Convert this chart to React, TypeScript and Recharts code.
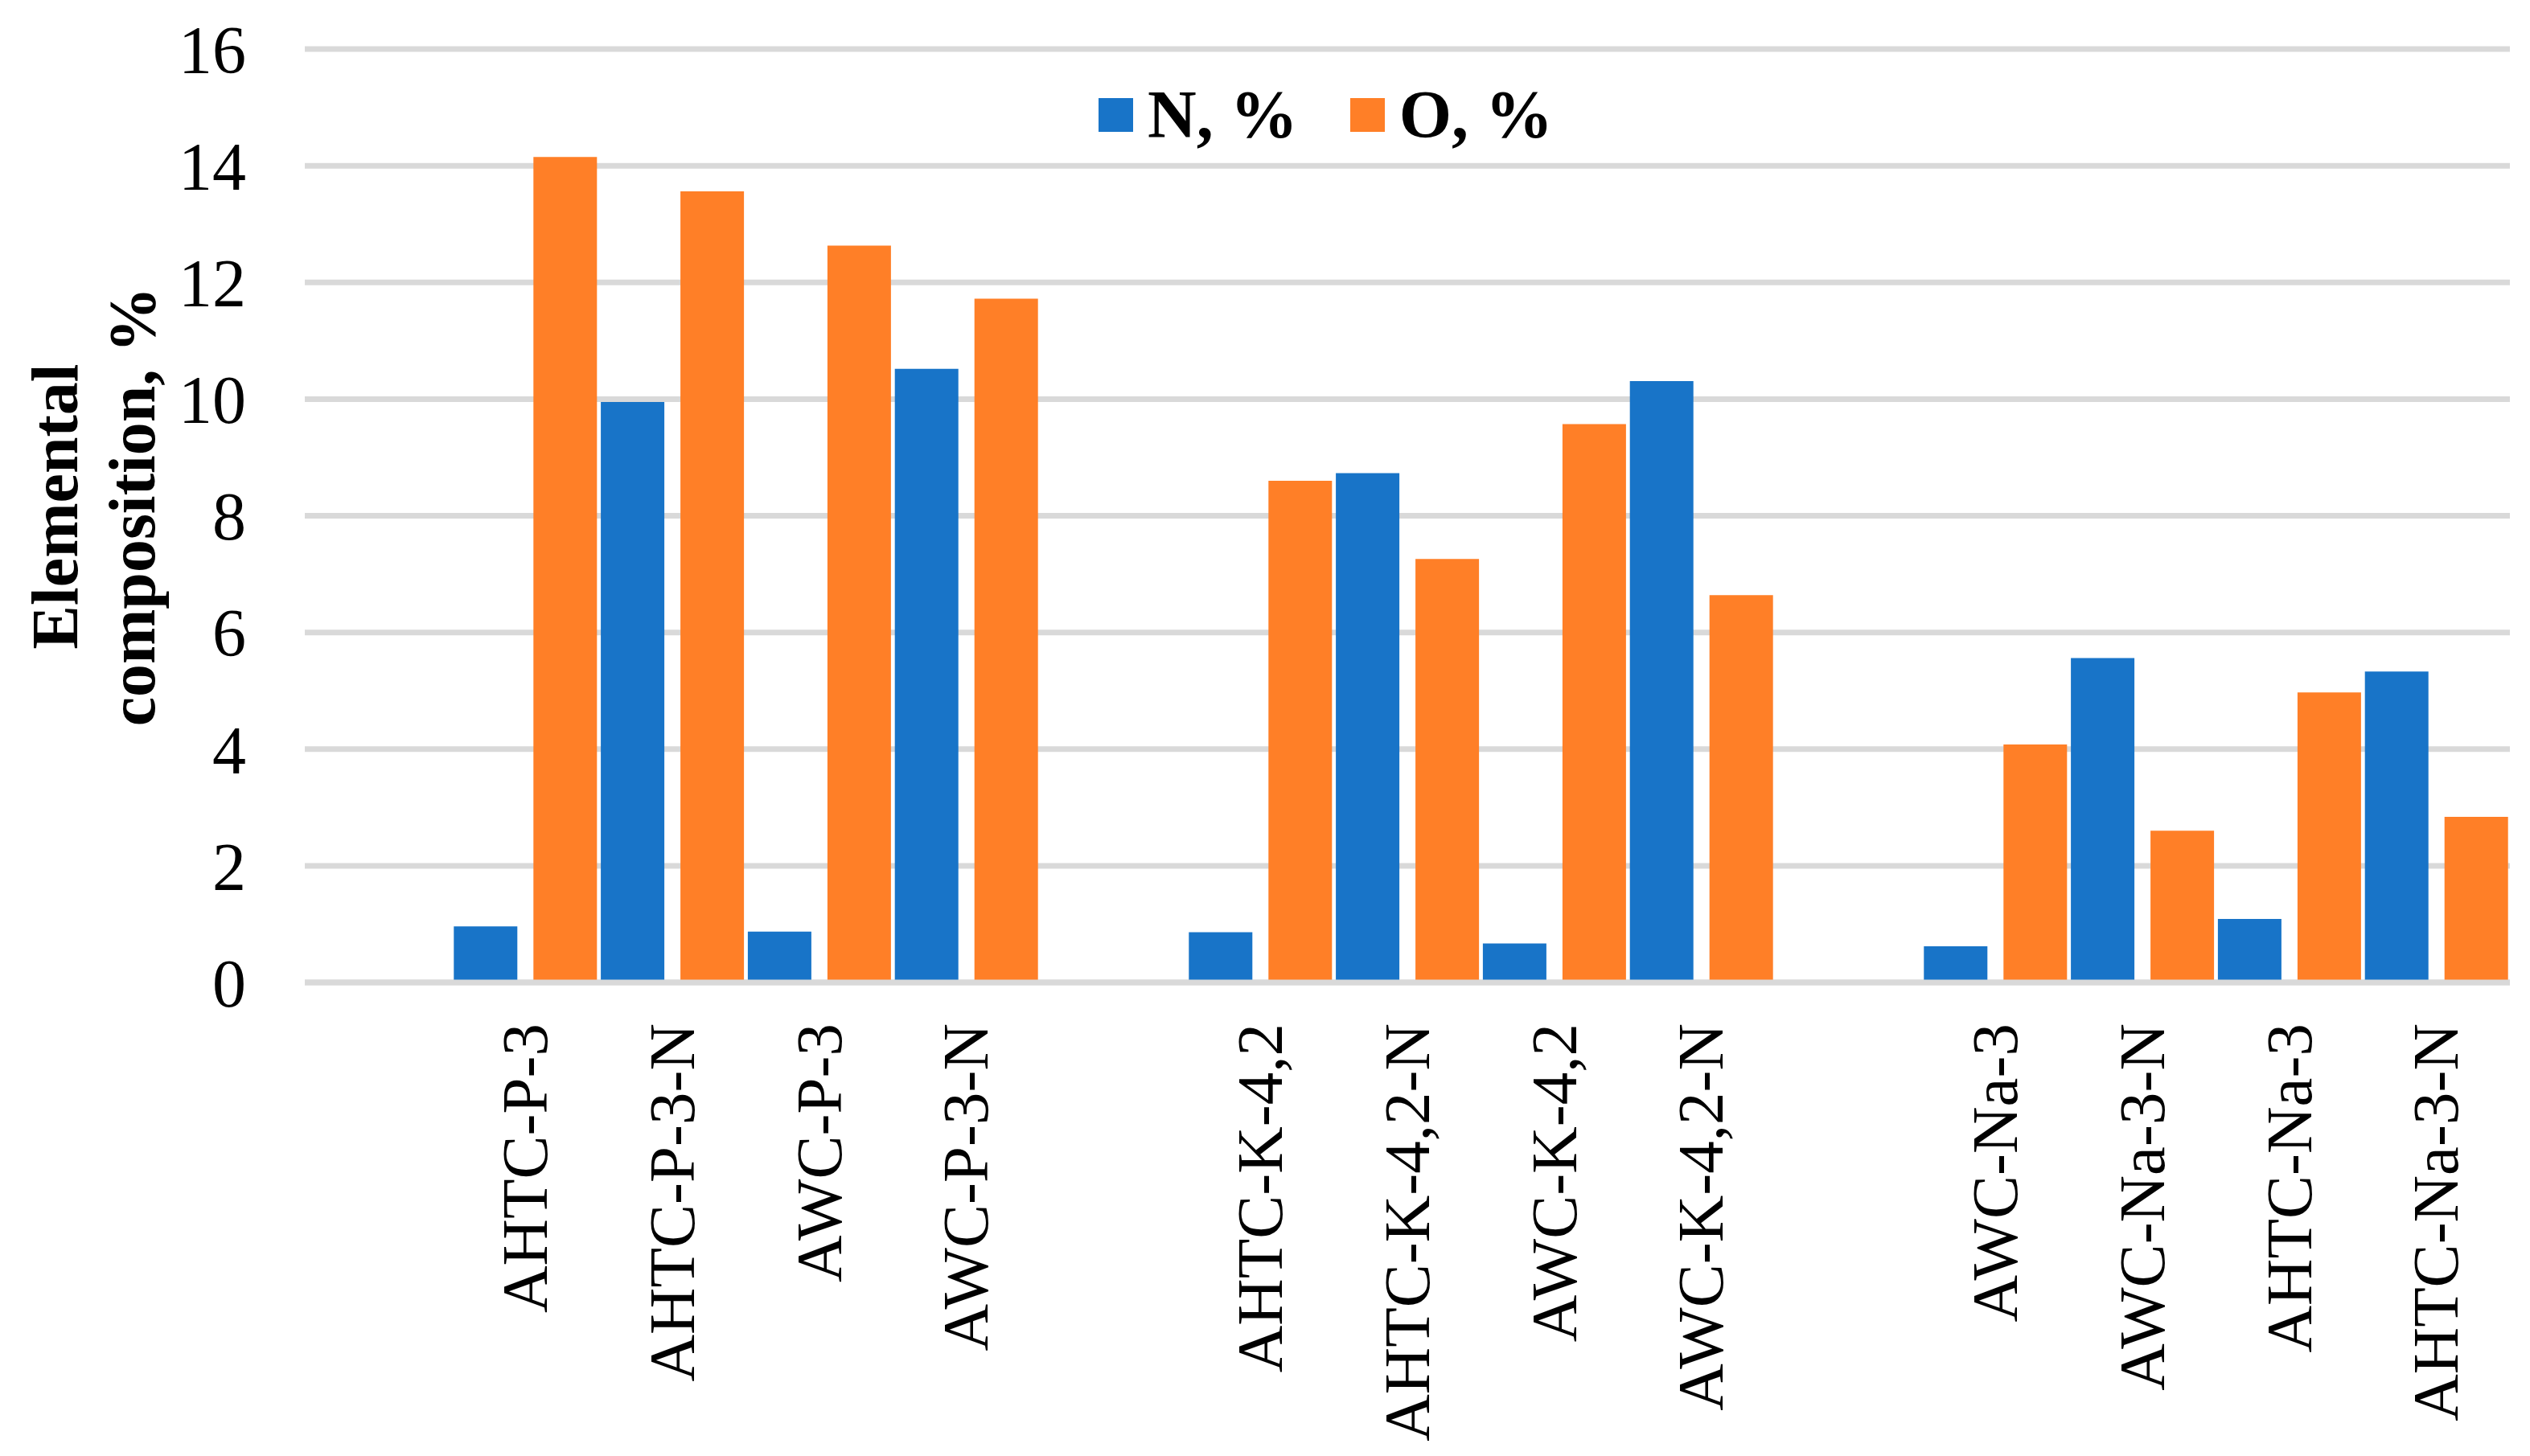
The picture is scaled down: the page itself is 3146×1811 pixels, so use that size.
import React from 'react';
import { BarChart, Bar, XAxis, YAxis, CartesianGrid, Legend, Label } from 'recharts';

const categories = [
  '',
  'AHTC-P-3',
  'AHTC-P-3-N',
  'AWC-P-3',
  'AWC-P-3-N',
  ' ',
  'AHTC-K-4,2',
  'AHTC-K-4,2-N',
  'AWC-K-4,2',
  'AWC-K-4,2-N',
  '  ',
  'AWC-Na-3',
  'AWC-Na-3-N',
  'AHTC-Na-3',
  'AHTC-Na-3-N',
];

const nValues = [null, 0.96, 9.95, 0.87, 10.52, null, 0.86, 8.73, 0.67, 10.31, null, 0.62, 5.56, 1.09, 5.33];
const oValues = [null, 14.15, 13.56, 12.63, 11.72, null, 8.6, 7.26, 9.57, 6.64, null, 4.08, 2.6, 4.97, 2.84];

const yTicks = [0, 2, 4, 6, 8, 10, 12, 14, 16];

const seriesNames = ['N, %', 'O, %'];
const seriesColors = ['#1874C8', '#FF7F27'];

const data = categories.map((name, i) => ({ name, N: nValues[i], O: oValues[i] }));

const FONT = '"Liberation Serif", "Times New Roman", serif';

const XTick = (props: any) => {
  const { x, y, payload } = props;
  return (
    <text
      x={x}
      y={y}
      transform={`rotate(-90, ${x}, ${y})`}
      textAnchor="end"
      dy="0.33em"
      fontFamily={FONT}
      fontSize={81}
      fill="#000"
    >
      {String(payload.value).trim()}
    </text>
  );
};

const YTitle = () => (
  <text
    x={96}
    y={630}
    transform="rotate(-90, 96, 630)"
    textAnchor="middle"
    fontFamily={FONT}
    fontSize={82}
    fontWeight="bold"
    fill="#000"
  >
    <tspan x={96} dy={0}>Elemental</tspan>
    <tspan x={96} dy={96}>composition, %</tspan>
  </text>
);

const LegendContent = () => (
  <div style={{ display: 'flex', alignItems: 'center', fontFamily: FONT, fontWeight: 'bold', fontSize: 84, color: '#000', whiteSpace: 'nowrap' }}>
    {seriesNames.map((n, i) => (
      <div key={n} style={{ display: 'flex', alignItems: 'center', marginRight: i === 0 ? 65 : 0 }}>
        <div style={{ width: 43, height: 42, background: seriesColors[i], marginRight: 18 }} />
        <span style={{ lineHeight: 1 }}>{n}</span>
      </div>
    ))}
  </div>
);

export default function App() {
  return (
    <div style={{ position: 'absolute', left: 0, top: 0, width: 3146, height: 1811, background: '#fff' }}>
      <BarChart
        width={3146}
        height={1811}
        data={data}
        margin={{ top: 61, right: 25, bottom: 0, left: 0 }}
        barCategoryGap={2.5}
        barGap={20}
      >
        <CartesianGrid horizontal vertical={false} stroke="#D9D9D9" strokeWidth={7} />
        <XAxis
          dataKey="name"
          interval={0}
          tickLine={false}
          axisLine={{ stroke: '#D9D9D9', strokeWidth: 7 }}
          tickSize={0}
          tickMargin={51}
          height={589}
          tick={<XTick />}
        />
        <YAxis
          domain={[0, 16]}
          ticks={yTicks}
          interval={0}
          tickLine={false}
          axisLine={false}
          width={379}
          tickSize={0}
          tickMargin={73}
          tick={{ fontSize: 84, fill: '#000', fontFamily: FONT }}
        >
          <Label content={() => <YTitle />} />
        </YAxis>
        <Legend
          layout="horizontal"
          align="center"
          verticalAlign="middle"
          content={() => <LegendContent />}
          wrapperStyle={{ left: 1366, top: 101, width: 'auto', height: 'auto' }}
        />
        <Bar dataKey="N" name={seriesNames[0]} fill={seriesColors[0]} isAnimationActive={false} />
        <Bar dataKey="O" name={seriesNames[1]} fill={seriesColors[1]} isAnimationActive={false} />
      </BarChart>
    </div>
  );
}
